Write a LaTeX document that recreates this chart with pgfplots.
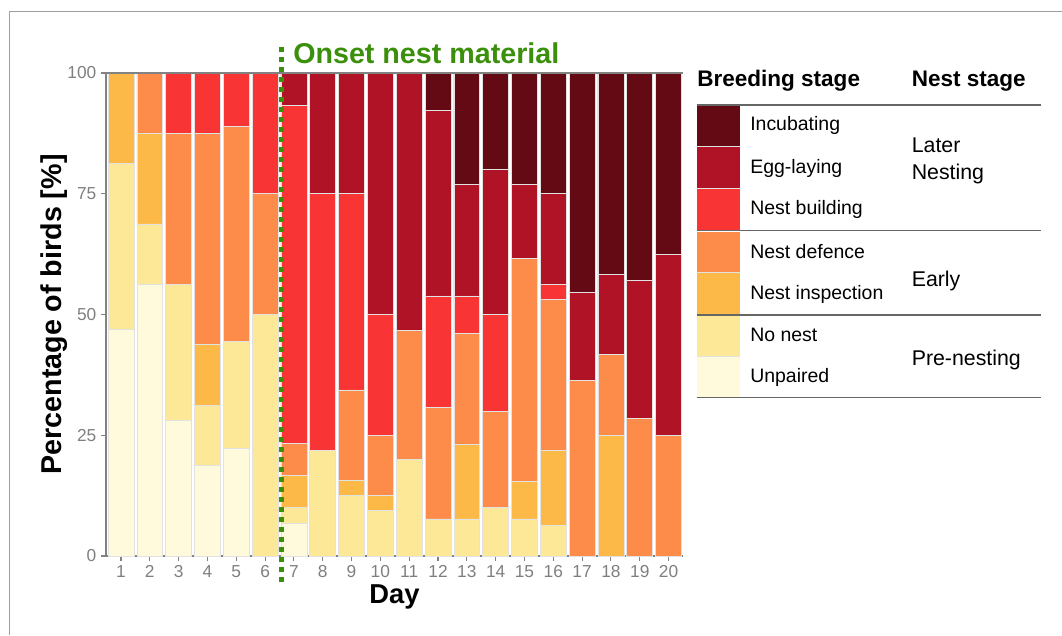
\documentclass[border=0pt]{standalone}
\usepackage{pgfplots}
\usepackage{pgfplotstable}
\pgfplotsset{compat=1.18}
\usepackage{fontspec}
\setmainfont{Liberation Sans}
\definecolor{cUnp}{HTML}{FFFADC}
\definecolor{cNon}{HTML}{FCE896}
\definecolor{cIns}{HTML}{FDB947}
\definecolor{cDef}{HTML}{FD8C4B}
\definecolor{cBui}{HTML}{F93434}
\definecolor{cEgg}{HTML}{B01226}
\definecolor{cInc}{HTML}{640A14}
\definecolor{onset}{HTML}{3A8F0B}
\definecolor{axgray}{HTML}{828282}
\definecolor{tlgray}{HTML}{7F7F7F}
\definecolor{bardraw}{HTML}{E2E2E2}
\definecolor{leggray}{HTML}{666666}

\pgfplotstableread{
day unp nonest insp def build egg inc
1 46.875 34.375 18.75 0 0 0 0
2 56.25 12.5 18.75 12.5 0 0 0
3 28.125 28.125 0 31.25 12.5 0 0
4 18.75 12.5 12.5 43.75 12.5 0 0
5 22.22 22.22 0 44.45 11.11 0 0
6 0 50 0 25 25 0 0
7 6.67 3.33 6.67 6.67 70 6.66 0
8 0 21.875 0 0 53.125 25 0
9 0 12.5 3.125 18.75 40.625 25 0
10 0 9.375 3.125 12.5 25 50 0
11 0 20 0 26.67 0 53.33 0
12 0 7.69 0 23.08 23.08 38.46 7.69
13 0 7.69 15.38 23.08 7.69 23.08 23.08
14 0 10 0 20 20 30 20
15 0 7.69 7.69 46.16 0 15.38 23.08
16 0 6.25 15.625 31.25 3.125 18.75 25
17 0 0 0 36.36 0 18.18 45.46
18 0 0 25 16.67 0 16.66 41.67
19 0 0 0 28.57 0 28.57 42.86
20 0 0 0 25 0 37.5 37.5
}\data

\begin{document}
\begin{tikzpicture}
\useasboundingbox (0,0) rectangle (796.5pt,476.25pt);
\draw[gray!75, line width=0.75pt] (7.1pt,0) -- (7.1pt,467.25pt) -- (796.5pt,467.25pt);
\begin{axis}[
  at={(79.5pt,59.25pt)}, anchor=south west,
  scale only axis, width=432.75pt, height=362.25pt,
  xmin=0.48, xmax=20.5, ymin=0, ymax=100,
  ybar stacked, bar width=0.9,
  axis x line=bottom, axis y line=left,
  axis line style={-, draw=axgray, line width=1pt},
  xtick={1,...,20}, ytick={0,25,50,75,100},
  tick style={draw=axgray, line width=0.8pt},
  major tick length=3.75pt, tick align=outside,
  ticklabel style={font=\fontsize{13}{15}\selectfont, text=tlgray},
  /pgf/number format/assume math mode=true,
  clip=false,
]
\addplot[fill=cUnp, draw=bardraw, line width=0.5pt] table[x=day,y=unp]{\data};
\addplot[fill=cNon, draw=bardraw, line width=0.5pt] table[x=day,y=nonest]{\data};
\addplot[fill=cIns, draw=bardraw, line width=0.5pt] table[x=day,y=insp]{\data};
\addplot[fill=cDef, draw=bardraw, line width=0.5pt] table[x=day,y=def]{\data};
\addplot[fill=cBui, draw=bardraw, line width=0.5pt] table[x=day,y=build]{\data};
\addplot[fill=cEgg, draw=bardraw, line width=0.5pt] table[x=day,y=egg]{\data};
\addplot[fill=cInc, draw=bardraw, line width=0.5pt] table[x=day,y=inc]{\data};
\coordinate (tlA) at (axis cs:0.48,100);
\coordinate (tlB) at (axis cs:20.5,100);
\coordinate (onA) at (axis cs:6.56,-5.4);
\coordinate (onB) at (axis cs:6.56,105.8);
\end{axis}
\draw[axgray, line width=1pt] (tlA) -- (tlB);
\draw[onset, line width=3.6pt, dash pattern=on 3.75pt off 3.75pt] (onA) -- (onB);
\begin{scope}[x=0.75pt, y=-0.75pt, shift={(0pt,476.25pt)}]
  % titles
  \node[anchor=base west, inner sep=0, text=onset, font=\fontsize{21.5}{24}\selectfont\bfseries] at (293,64) {Onset nest material};
  \node[anchor=base, inner sep=0, font=\fontsize{20.5}{23}\selectfont\bfseries] at (394.5,603) {Day};
  \node[anchor=base, inner sep=0, rotate=90, font=\fontsize{21.5}{24}\selectfont\bfseries] at (61,314.5) {Percentage of birds [\%]};
  % legend
  \node[anchor=base west, inner sep=0, font=\fontsize{16.9}{20}\selectfont\bfseries] at (697,86.7) {Breeding stage};
  \node[anchor=base west, inner sep=0, font=\fontsize{16.9}{20}\selectfont\bfseries] at (911.5,86.7) {Nest stage};
  \fill[cInc] (697.3,105.7) rectangle (740,146.7);
  \fill[cEgg] (697.3,146.7) rectangle (740,188.3);
  \fill[cBui] (697.3,188.3) rectangle (740,230);
  \fill[cDef] (697.3,231.7) rectangle (740,272.7);
  \fill[cIns] (697.3,272.7) rectangle (740,314);
  \fill[cNon] (697.3,316) rectangle (740,356);
  \fill[cUnp] (697.3,356) rectangle (740,397.3);
  \draw[bardraw, line width=0.4pt] (697.3,146.7) -- (740,146.7) (697.3,188.3) -- (740,188.3) (697.3,272.7) -- (740,272.7) (697.3,356) -- (740,356);
  \foreach \yy in {105,230.8,315,397.7} \draw[leggray, line width=1pt] (696.5,\yy) -- (1041,\yy);
  \begin{scope}[every node/.style={anchor=base west, inner sep=0, font=\fontsize{14.6}{17}\selectfont}]
    \node at (750,131) {Incubating};
    \node at (750,173.3) {Egg-laying};
    \node at (750,215) {Nest building};
    \node at (750,258.3) {Nest defence};
    \node at (750,299.3) {Nest inspection};
    \node at (750,341.7) {No nest};
    \node at (750,382.7) {Unpaired};
  \end{scope}
  \begin{scope}[every node/.style={anchor=base west, inner sep=0, font=\fontsize{16}{19}\selectfont}]
    \node at (911.5,152.7) {Later};
    \node at (911.5,179.3) {Nesting};
    \node at (911.5,286.7) {Early};
    \node at (911.5,366) {Pre-nesting};
  \end{scope}
\end{scope}
\end{tikzpicture}
\end{document}
